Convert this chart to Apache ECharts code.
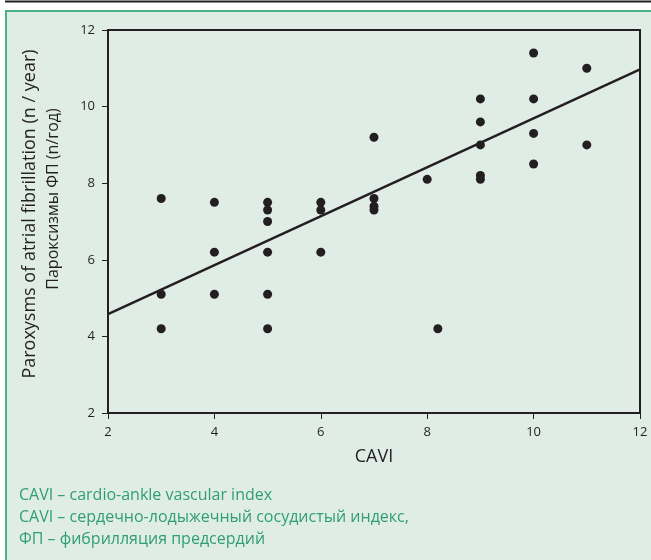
<!DOCTYPE html>
<html><head><meta charset="utf-8">
<script src="https://cdn.jsdelivr.net/npm/echarts@6/dist/echarts.min.js"></script>
<style>html,body{margin:0;padding:0;background:#fff}#c{width:651px;height:560px}</style>
</head><body><div id="c"></div>
<script>
// CAVI values (x) and paroxysms of AF per year (y)
const caviX = [3,3,3, 4,4,4, 5,5,5,5,5,5, 6,6,6, 7,7,7,7, 8, 8.2, 9,9,9,9,9, 10,10,10,10, 11,11];
const afY   = [7.6,5.1,4.2, 7.5,6.2,5.1, 7.5,7.3,7.0,6.2,5.1,4.2, 7.5,7.3,6.2, 9.2,7.6,7.4,7.3, 8.1, 4.2, 10.2,9.6,9.0,8.2,8.1, 11.4,10.2,9.3,8.5, 11.0,9.0];
// regression line end points
const lineX = [2, 12];
const lineY = [4.58, 10.97];
const xTicks = [2,4,6,8,10,12];
const yTicks = [2,4,6,8,10,12];
const yTitle1 = 'Paroxysms of atrial fibrillation (n / year)';
const yTitle2 = 'Пароксизмы ФП (n/год)';
const xTitle = 'CAVI';
const notes = ['CAVI – cardio-ankle vascular index','CAVI – сердечно-лодыжечный сосудистый индекс,','ФП – фибрилляция предсердий'];

const FONT = 'Open Sans';
const INK = '#231f20';
const GREEN = '#2f9e72';
const chart = echarts.init(document.getElementById('c'), null, {renderer:'canvas'});
const pts = caviX.map((x,i)=>[x, afY[i]]);
const linePts = lineX.map((x,i)=>[x, lineY[i]]);
const noteY = [495, 517, 539];
chart.setOption({
  animation:false,
  backgroundColor:'#ffffff',
  graphic:[
    {type:'line', z:-10, shape:{x1:5,y1:1.5,x2:651,y2:1.5}, style:{stroke:INK,lineWidth:2}},
    {type:'rect', z:-10, shape:{x:6,y:11,width:700,height:600}, style:{fill:'#e0ede6',stroke:'#4cb088',lineWidth:2}},
    {type:'text', rotation:Math.PI/2, x:30, y:214, style:{text:yTitle1, font:'18px "'+FONT+'"', fill:INK, align:'center', verticalAlign:'middle'}},
    {type:'text', rotation:Math.PI/2, x:53, y:199, style:{text:yTitle2, font:'16px "'+FONT+'"', fill:INK, align:'center', verticalAlign:'middle'}},
    {type:'text', x:374, y:457, style:{text:xTitle, font:'18px "'+FONT+'"', fill:INK, align:'center', verticalAlign:'middle'}},
    ...notes.map((t,i)=>({type:'text', x:19, y:noteY[i], style:{text:t, font:'16px "'+FONT+'"', fill:GREEN, align:'left', verticalAlign:'middle'}}))
  ],
  grid:{left:108, top:30, width:532, height:383, show:true, backgroundColor:'transparent', borderColor:INK, borderWidth:2},
  xAxis:{type:'value', min:2, max:12, interval:2,
    axisLine:{show:true, lineStyle:{color:INK,width:2}},
    axisTick:{show:true, inside:false, length:6, lineStyle:{color:INK,width:1}},
    axisLabel:{color:INK, fontFamily:FONT, fontSize:13, margin:13, formatter:v=>xTicks.includes(v)?String(v):''},
    splitLine:{show:false}},
  yAxis:{type:'value', min:2, max:12, interval:2,
    axisLine:{show:true, lineStyle:{color:INK,width:2}},
    axisTick:{show:true, inside:false, length:6, lineStyle:{color:INK,width:1}},
    axisLabel:{color:INK, fontFamily:FONT, fontSize:13, margin:13, formatter:v=>yTicks.includes(v)?String(v):''},
    splitLine:{show:false}},
  series:[
    {type:'line', data:linePts, symbol:'none', lineStyle:{color:INK,width:2.5}, z:2},
    {type:'scatter', data:pts, symbol:'circle', symbolSize:9, itemStyle:{color:INK, opacity:1}, z:3}
  ]
});
</script></body></html>
